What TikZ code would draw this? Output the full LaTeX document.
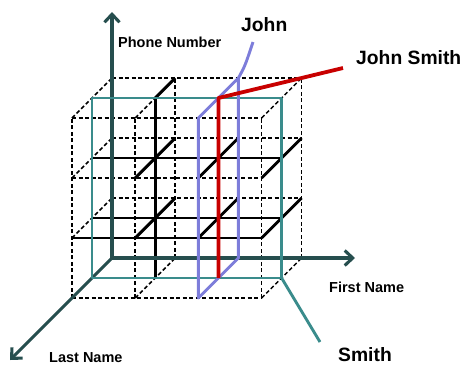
\documentclass[tikz,border=0pt]{standalone}
\usepackage{fontspec}
\setmainfont{Liberation Sans}
\usetikzlibrary{arrows.meta}
\definecolor{axiscol}{RGB}{38,78,78}
\definecolor{tealc}{RGB}{58,140,140}
\definecolor{bluec}{RGB}{125,125,218}
\definecolor{redc}{RGB}{200,0,0}
\begin{document}
\begin{tikzpicture}[x=1pt,y=-1pt,
  dsh/.style={black,line width=1.5pt,dash pattern=on 4pt off 2.5pt},
  sol/.style={black,line width=2.9pt},
  thinsol/.style={black,line width=1.6pt},
  axisline/.style={draw=axiscol,line width=3.1pt,line cap=round,-{Straight Barb[length=8pt,width=15pt]}},
  tealline/.style={draw=tealc,line width=2.9pt,line join=round},
  blueline/.style={draw=bluec,line width=2.9pt,line join=round},
  redline/.style={draw=redc,line width=3.8pt,line join=round},
  lbl/.style={font=\fontsize{14.5}{16}\selectfont\bfseries,inner sep=0pt,text=black},
  biglbl/.style={font=\fontsize{19.3}{22}\selectfont\bfseries,inner sep=0pt,text=black}]
\useasboundingbox (0,0) rectangle (463,365);
% grid points p<i><j><k>: i = first name, j = phone number, k = last name (0 back, 2 front)
\foreach \i in {0,...,3}
  \foreach \j in {0,...,3}
    \foreach \k in {0,1,2}
      \coordinate (p\i\j\k) at ({112+63.2*\i-20*\k},{258-60*\j+20*\k});
% back face
\foreach \j in {1,2,3} \draw[dsh] (p0\j0) -- (p3\j0);
\foreach \i in {1,2,3} \draw[dsh] (p\i00) -- (p\i30);
% front face
\foreach \j in {0,2,3} \draw[dsh] (p0\j2) -- (p3\j2);
\draw[thinsol] (p012) -- (p312);
\foreach \i in {0,...,3} \draw[dsh] (p\i02) -- (p\i32);
% depth lines
\foreach \i/\j in {0/3,2/3,3/3,1/0,2/0,3/0,0/1,0/2} \draw[dsh] (p\i\j2) -- (p\i\j0);
\draw[dsh] (p132) -- (p131);
\draw[sol] (p131) -- (p130);
\foreach \i/\j in {1/1,2/1,3/1,1/2,2/2,3/2} \draw[sol] (p\i\j2) -- (p\i\j0);
% middle plane interior
\draw[sol] (p011) -- (p311);
\draw[sol] (p021) -- (p321);
\draw[sol] (p101) -- (p131);
% axes
\coordinate (phonetip) at (112,12);
\coordinate (firsttip) at (355,258);
\coordinate (lasttip) at (10,360);
\draw[axisline] (p000) -- (phonetip);
\draw[axisline] (p000) -- (firsttip);
\draw[axisline] (p000) -- (lasttip);
% Smith plane
\coordinate (smithend) at (320,342);
\draw[tealline] (p001) -- (p031) -- (p331) -- (p301) -- cycle;
\draw[tealline] (p301) -- (smithend);
% John plane
\coordinate (johnend) at (253,42);
\draw[blueline] (p202) -- (p232) -- (p230) -- (p200) -- cycle;
\draw[blueline] (p230) .. controls (245,66) .. (johnend);
% John Smith
\coordinate (jsend) at (343,68);
\draw[redline] (p201) -- (p231) -- (p330) -- (jsend);
% labels
\node[lbl,anchor=base west] (phone) at (118,47.5) {Phone Number};
\node[lbl,anchor=base west] (first) at (329,292) {First Name};
\node[lbl,anchor=base west] (last) at (49,362) {Last Name};
\node[biglbl,anchor=base west] (john) at (241,31) {John};
\node[biglbl,anchor=base west] (johnsmith) at (356,64) {John Smith};
\node[biglbl,anchor=base west] (smith) at (338,361) {Smith};
\end{tikzpicture}
\end{document}
